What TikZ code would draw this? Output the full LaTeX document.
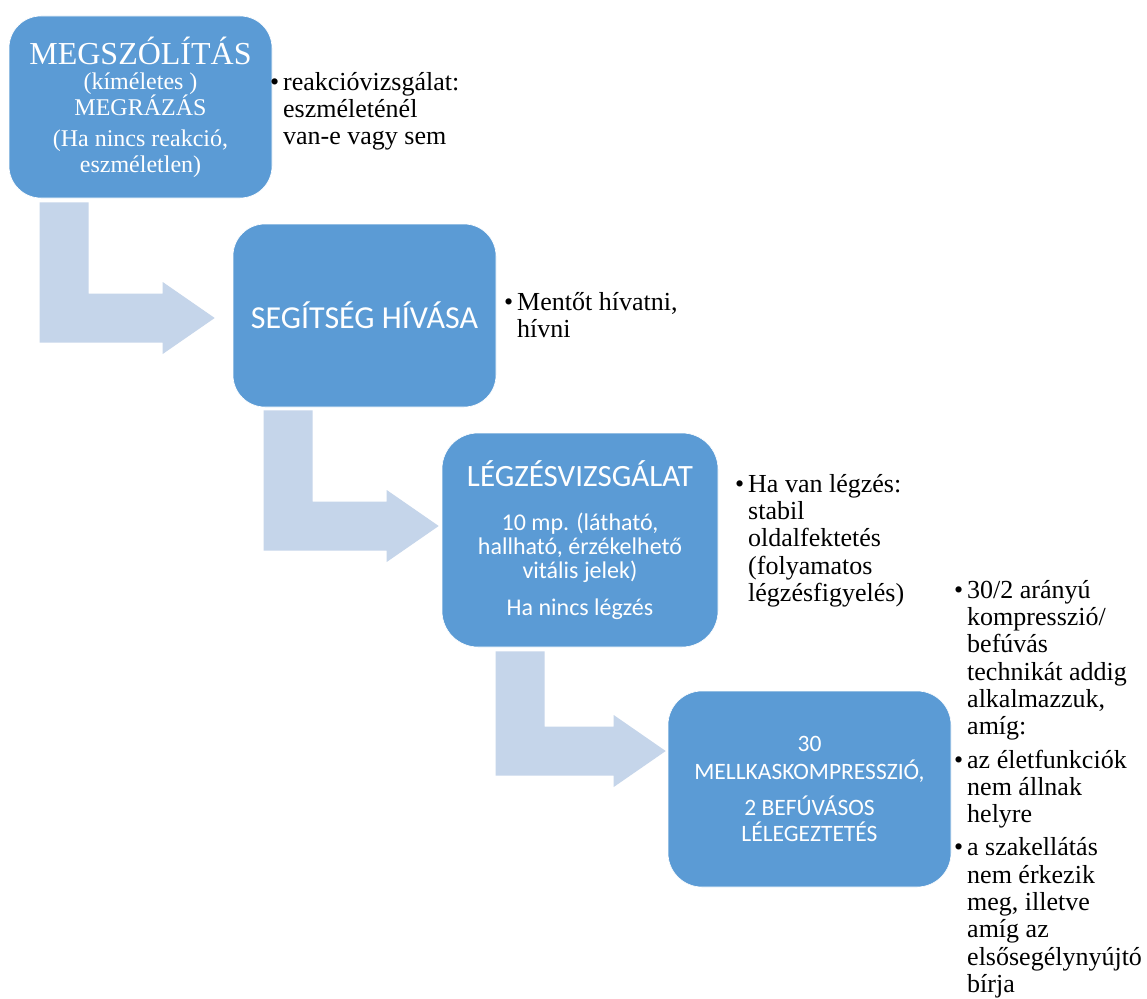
\documentclass[tikz,border=0pt]{standalone}
\usepackage{fontspec}
\setmainfont{Liberation Serif}
\newfontfamily\calib{Carlito}
\usetikzlibrary{calc}
\definecolor{boxblue}{HTML}{5B9BD5}
\definecolor{arrowblue}{HTML}{C5D5EA}
\newcommand\bentarrow[2]{%
  \fill[arrowshape] let \p1=#1, \p2=#2 in
    (\x1,\y1) -- (\x1+49pt,\y1) -- (\x1+49pt,\y2+24.5pt) -- (\x2-52pt,\y2+24.5pt)
    -- (\x2-52pt,\y2+36pt) -- (\x2,\y2) -- (\x2-52pt,\y2-36pt) -- (\x2-52pt,\y2-24.5pt)
    -- (\x1,\y2-24.5pt) -- cycle;}
\newcommand\bul{\llap{\textbullet\hspace{4pt}}}
\begin{document}
\begin{tikzpicture}[x=1pt,y=-1pt,
  box/.style={fill=boxblue, draw=white, line width=0.6pt, text=white, align=center, inner sep=0pt},
  note/.style={anchor=north west, align=left, inner sep=0pt, text=black, font=\fontsize{26}{27.3}\selectfont},
  arrowshape/.style={fill=arrowblue}]
\useasboundingbox (0,0) rectangle (1147,998);
\fill[white] (0,0) rectangle (1147,998);

\node[box, minimum width=263pt, minimum height=182pt, rounded corners=32pt,
      font=\fontsize{24}{26}\selectfont] (b1) at (140.5,107)
  {{\fontsize{32}{26}\selectfont MEGSZÓLÍTÁS}\\[-1pt](kíméletes )\\MEGRÁZÁS\\[5pt](Ha nincs reakció,\\eszméletlen)};

\node[box, minimum width=263pt, minimum height=183pt, rounded corners=32pt,
      font=\calib\fontsize{32}{36}\selectfont] (b2) at (364.5,315.5)
  {SEGÍTSÉG HÍVÁSA};

\node[box, minimum width=276pt, minimum height=214pt, rounded corners=36pt,
      font=\calib\fontsize{24}{24}\selectfont] (b3) at (580,540)
  {{\fontsize{31}{24}\selectfont LÉGZÉSVIZSGÁLAT}\\[20pt]10 mp. (látható,\\hallható, érzékelhető\\vitális jelek)\\[13pt]Ha nincs légzés};

\node[box, minimum width=283pt, minimum height=196pt, rounded corners=34pt,
      font=\calib\fontsize{23.5}{27}\selectfont] (b4) at (809.5,789)
  {30\\[1pt]MELLKASKOMPRESSZIÓ,\\[9pt]2 BEFÚVÁSOS\\[-1pt]LÉLEGEZTETÉS};

\bentarrow{($(b1.south west)+(31,4)$)}{($(b2.west)+(-18,2.5)$)}
\bentarrow{($(b2.south west)+(31,3)$)}{($(b3.west)+(-3,-14)$)}
\bentarrow{($(b3.south west)+(54,4)$)}{($(b4.west)+(-2,-38)$)}

\node[note] (t1) at (283,70)
  {\rule{0pt}{20pt}\bul reakcióvizsgálat:\\eszméleténél\\van-e vagy sem};
\node[note] (t2) at (517,290)
  {\rule{0pt}{20pt}\bul Mentőt hívatni,\\hívni};
\node[note] (t3) at (748,472)
  {\rule{0pt}{20pt}\bul Ha van légzés:\\stabil\\oldalfektetés\\(folyamatos\\légzésfigyelés)};
\node[note] (t4) at (967,578)
  {\rule{0pt}{20pt}\bul 30/2 arányú\\kompresszió/\\befúvás\\technikát addig\\alkalmazzuk,\\amíg:\\[6pt]%
\bul az életfunkciók\\nem állnak\\helyre\\[6pt]%
\bul a szakellátás\\nem érkezik\\meg, illetve\\amíg az\\elsősegélynyújtó\\bírja};
\end{tikzpicture}
\end{document}
